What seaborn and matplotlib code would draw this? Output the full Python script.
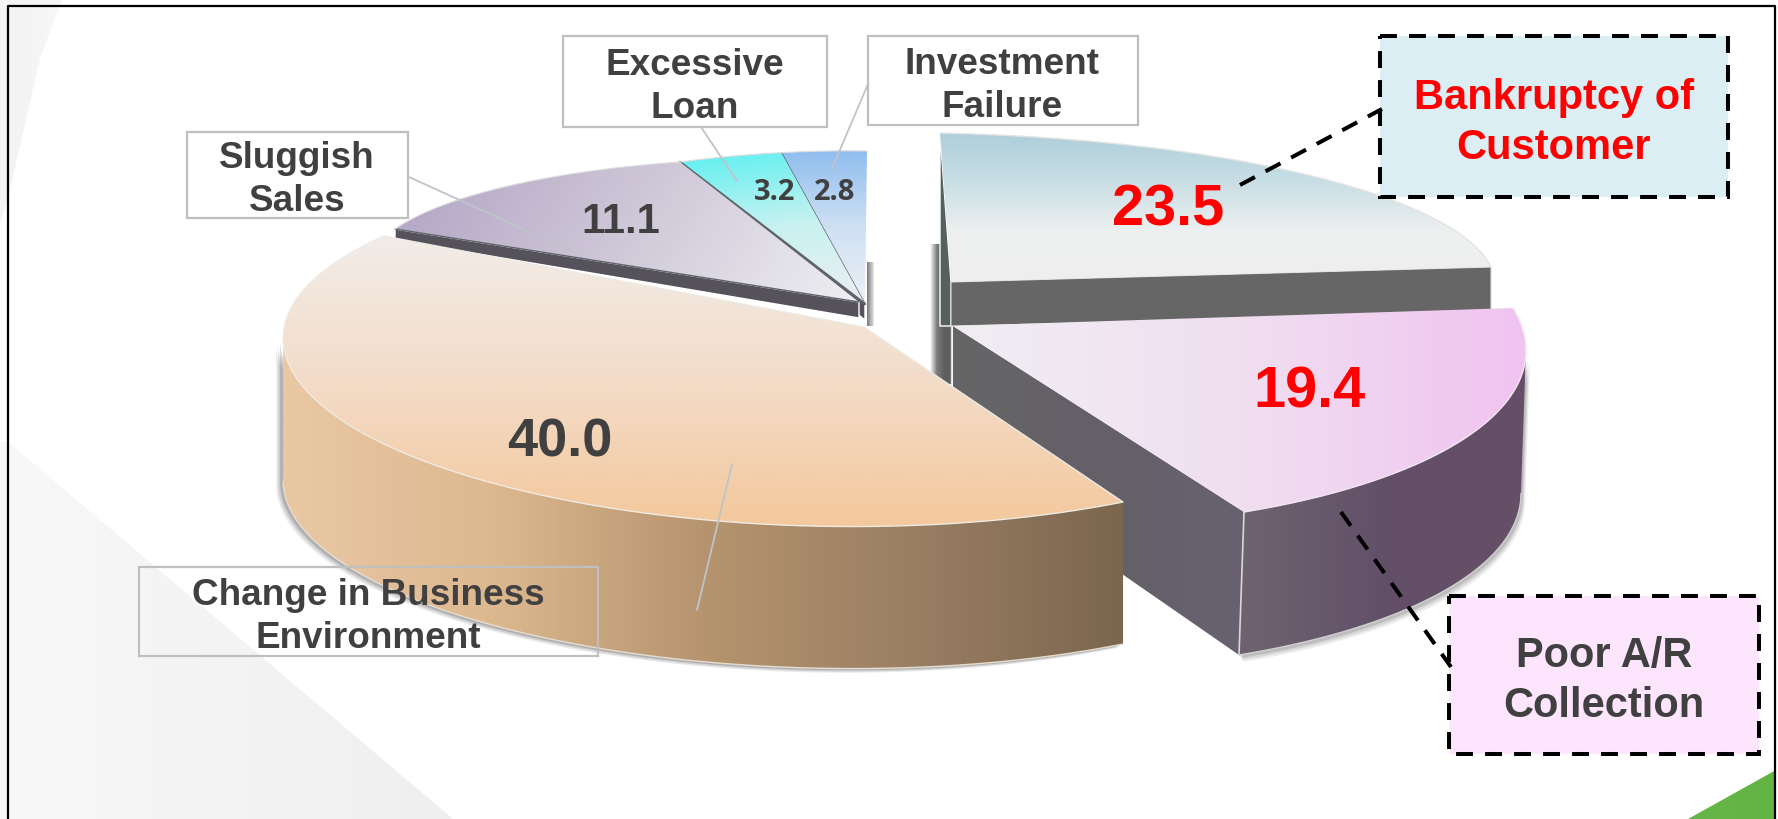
import numpy as np
import matplotlib
matplotlib.use("Agg")
import matplotlib.pyplot as plt
from matplotlib.patches import Polygon, Rectangle
import seaborn as sns

# Causes of insolvency, share in percent, clockwise from twelve o'clock
causes = ["Bankruptcy of\nCustomer", "Poor A/R\nCollection", "Change in Business\nEnvironment",
          "Sluggish\nSales", "Excessive\nLoan", "Investment\nFailure"]
shares = [23.5, 19.4, 40.0, 11.1, 3.2, 2.8]

sns.set_theme(style="white")
plt.rcParams["font.family"] = ["Liberation Sans", "DejaVu Sans"]

W, H = 1778, 820
INK = "#404040"
BOX_EDGE = "#BFBFBF"
LEADER = "#BEC4CA"
DASHES = (0, (4.2, 3.0))

fig = plt.figure(figsize=(W / 100, H / 100), dpi=100, facecolor="white")
ax = fig.add_axes([0, 0, 1, 1])
ax.set_xlim(0, W)
ax.set_ylim(H, 0)
ax.axis("off")
ax.autoscale(False)


def gradient(xy, colors, direction=(0, 1), zorder=2):
    """Fill a polygon with a linear colour ramp running along direction."""
    xy = np.asarray(xy)
    x0, y0 = xy.min(axis=0)
    x1, y1 = xy.max(axis=0)
    X, Y = np.meshgrid(np.linspace(0, 1, 220), np.linspace(0, 1, 220))
    dx, dy = direction
    t = X * dx * (x1 - x0) + Y * dy * (y1 - y0)
    t = (t - t.min()) / (t.max() - t.min())
    cmap = sns.blend_palette(colors, as_cmap=True)
    im = ax.imshow(t, extent=(x0, x1, y1, y0), origin="upper", cmap=cmap, vmin=0, vmax=1,
                   aspect="auto", interpolation="bilinear", zorder=zorder)
    clip = Polygon(xy, closed=True, transform=ax.transData, facecolor="none", edgecolor="none")
    ax.add_patch(clip)
    im.set_clip_path(clip)
    return im


def solve_view(angles, points):
    """Homography taking the unit disc to the tilted slice plane."""
    src = [(0.0, 0.0)] + [(np.sin(np.radians(a)), np.cos(np.radians(a))) for a in angles]
    A, b = [], []
    for (u, v), (x, y) in zip(src, points):
        A.append([u, v, 1, 0, 0, 0, -u * x, -v * x])
        A.append([0, 0, 0, u, v, 1, -u * y, -v * y])
        b += [x, y]
    h = np.linalg.solve(np.array(A, float), np.array(b, float))
    return np.append(h, 1.0).reshape(3, 3)


def project(M, deg):
    r = np.radians(deg)
    uv = np.c_[np.sin(r), np.cos(r), np.ones_like(r)]
    p = uv @ M.T
    return p[:, :2] / p[:, 2:]


def apex_of(M):
    return M[:2, 2] / M[2, 2]


bounds = np.r_[0, np.cumsum(shares) / np.sum(shares) * 360]

# Camera anchors for each exploded part of the pie: apex, first edge, last edge, mid arc
view_blue = solve_view([bounds[0], bounds[1], bounds[:2].mean()],
                       [(951, 283), (940, 134), (1491, 268), (1316, 178)])
view_pink = solve_view([bounds[1], bounds[2], bounds[1:3].mean()],
                       [(953, 327), (1513, 309), (1244, 513), (1478, 430)])
view_orange = solve_view([bounds[2], bounds[3], bounds[2:4].mean()],
                         [(864, 328), (1123, 503), (384, 237), (424, 462)])
view_purple = solve_view([bounds[3], bounds[4], bounds[3:5].mean()],
                         [(859, 303), (395, 230), (680, 163), (504, 188)])
view_tip = solve_view([bounds[4], bounds[6], bounds[4:7:2].mean()],
                      [(865, 305), (680, 163), (867, 152), (775, 154)])
views_small = {3: view_purple, 4: view_tip, 5: view_tip}


def sector(M, i, n=160):
    return project(M, np.linspace(bounds[i], bounds[i + 1], n))


# Backdrop shapes
gradient([(0, 443), (8, 443), (453, 820), (0, 820)], ["#F8F8F8", "#EFEFEF"], (1, 0), zorder=0)
gradient([(0, 0), (62, 0), (40, 60), (8, 200), (0, 225)], ["#F3F3F3", "#F7F7F7"], (1, 0), zorder=0)
gradient([(1776, 771), (1776, 820), (1688, 820)], ["#66B54A", "#62B342"], (1, 0), zorder=0)

# Bankruptcy of customer
arc = sector(view_blue, 0)
apex = apex_of(view_blue)
drop = np.array([0, 44])
gradient([(930, 245), (951, 245), (951, 385), (930, 385)], ["#FFFFFF", "#7A7A7A", "#5F5F5F", "#5F5F5F"], (1, 0), zorder=1)
ax.add_patch(Polygon([arc[0], apex, apex + drop, apex + drop - (11, 0)], facecolor="#55615F", zorder=2))
ax.add_patch(Polygon([apex, arc[-1], arc[-1] + (0, 47), apex + drop], facecolor="#666666",
                     edgecolor="#D8D8D8", lw=0.8, zorder=2))
gradient(np.vstack([apex, arc]), ["#AECFDB", "#C9DFE5", "#EEF0F0", "#EEEEEE"], (0, 1), zorder=3)
ax.plot(*arc.T, color="#E4E4E4", lw=1, zorder=3)
ax.plot([951, 951], [327, 385], color="#E0E0E0", lw=1, zorder=3)

# The three small slices, drawn from the innermost outward
gradient([(867, 263), (874, 263), (874, 327), (867, 327)], ["#777777", "#E8E8E8"], (1, 0), zorder=1)
small_ramps = {3: ["#B1A3C4", "#CFC8D8", "#EFEFF2"],
               4: ["#5CF0F0", "#C8F2F0", "#EDEEF2"],
               5: ["#8FBDEE", "#CFE0F3", "#EEF0F6"]}
small_dirs = {3: (0.8, 0.5), 4: (0.15, 1), 5: (0, 1)}
for i in (5, 4, 3):
    M = views_small[i]
    arc = sector(M, i)
    apex = apex_of(M)
    ax.add_patch(Polygon([arc[0], apex, apex + (0, 16), arc[0] + (0, 11)], facecolor="#55525C", zorder=4))
    gradient(np.vstack([apex, arc]), small_ramps[i], small_dirs[i], zorder=4)
    ax.plot(*np.array([apex, arc[0]]).T, color="#5E6468", lw=1.8 if i == 4 else 1.0, zorder=4)
    ax.plot(*arc.T, color="#DDDDE0", lw=0.8, zorder=4)

# Poor A/R collection
arc = sector(view_pink, 1)
apex = apex_of(view_pink)
drop = np.array([-5, 143])
lower = arc + drop
side = arc[:, 0].argmax()
wall = np.vstack([arc[side:], lower[side:][::-1]])
for k, a in ((7, 0.10), (5, 0.14), (3, 0.2)):
    ax.add_patch(Polygon(wall + (k * 0.6, k), closed=True, facecolor="#555555", edgecolor="none", alpha=a, zorder=4.5))
gradient([apex, arc[-1], arc[-1] + drop, apex + (0, 131)], ["#666666", "#636068", "#686270"], (1, 0), zorder=5)
gradient(wall, ["#6F6370", "#625068", "#664F66"], (1, 0), zorder=5)
ax.plot(*np.array([arc[-1], arc[-1] + drop]).T, color="#D8D8D8", lw=1.2, zorder=5)
ax.plot(*lower[side:].T, color="#D0D0D0", lw=1, zorder=5)
gradient(np.vstack([apex, arc]), ["#F0EEF3", "#F1DFF1", "#F0C3F0"], (1, 0), zorder=6)
ax.plot(*arc.T, color="#F2E6F2", lw=1, zorder=6)

# Change in business environment
arc = sector(view_orange, 2)
apex = apex_of(view_orange)
drop = np.array([0, 142])
lower = arc + drop
side = arc[:, 0].argmin()
wall = np.vstack([arc[:side + 1], lower[:side + 1][::-1]])
for k, a in ((7, 0.12), (5, 0.18), (3, 0.25)):
    ax.add_patch(Polygon(wall + (-k, k * 0.6), closed=True, facecolor="#555555", edgecolor="none", alpha=a, zorder=6.5))
gradient(wall, ["#E9C8A4", "#DDB88F", "#B6946F", "#9A7F63", "#7B664E"], (1, 0), zorder=7)
ax.plot(*lower[:side + 1].T, color="#E6DCCF", lw=1, zorder=7)
gradient(np.vstack([apex, arc]), ["#F2ECE8", "#F3DCC8", "#F3C89C"], (0, 1), zorder=8)
ax.plot(*np.vstack([apex, arc, apex]).T, color="#EEEAE4", lw=1, zorder=8)

# Thin leaders from the plain label boxes
leaders = [((409, 178), (578, 255)), ((701, 128), (737, 182)), ((868, 85), (831, 172)), ((732, 465), (697, 611))]
for p, q in leaders:
    ax.plot(*np.array([p, q]).T, color=LEADER, lw=1.3, zorder=9)

# Dashed leaders for the two highlighted causes
dash = dict(color="black", lw=2.9, ls=DASHES, zorder=12)
ax.plot([1240, 1382], [186, 110], **dash)
ax.plot([1341, 1451], [513, 668], **dash)

# Label boxes
plain_boxes = [(563, 37, 827, 128, "white"), (868, 37, 1138, 126, "white"),
               (187, 133, 408, 219, "white"), (139, 568, 598, 657, "none")]
for x0, y0, x1, y1, fc in plain_boxes:
    ax.add_patch(Rectangle((x0, y0), x1 - x0, y1 - y0, facecolor=fc, edgecolor=BOX_EDGE, lw=1.6, zorder=10))
for x0, y0, x1, y1, fc in [(1380, 37, 1728, 198, "#DAEEF3"), (1449, 597, 1759, 755, "#FDE5FE")]:
    ax.add_patch(Rectangle((x0, y0), x1 - x0, y1 - y0, facecolor=fc, edgecolor="black", lw=2.9,
                           ls=DASHES, zorder=11))

# Cause names
name_style = [(1554, 123, "#FF0000", 30), (1604, 681, INK, 30), (368, 617, INK, 26.6),
              (297, 180, INK, 26.6), (695, 87, INK, 26.6), (1002, 86, INK, 26.6)]
for name, (x, y, color, size) in zip(causes, name_style):
    ax.text(x, y, name, ha="center", va="center", color=color, fontsize=size, fontweight="bold",
            linespacing=1.3, zorder=13)

# Percentages
value_style = [(1168, 210, "#FF0000", 41.5, "Liberation Sans"), (1309, 393, "#FF0000", 41.5, "Liberation Sans"),
               (560, 443, INK, 39, "Liberation Sans"), (621, 222, INK, 30, "Liberation Sans"),
               (775, 192, INK, 21, "Open Sans"), (835, 192, INK, 21, "Open Sans")]
for value, (x, y, color, size, family) in zip(shares, value_style):
    ax.text(x, y, f"{value:.1f}", ha="center", va="center", color=color, fontsize=size, fontweight="bold",
            family=family, zorder=13)

# Slide frame
ax.plot([7.5, 7.5, 1775, 1775], [H, 6.5, 6.5, H], color="black", lw=1.6, zorder=20)

fig.savefig("out.png", dpi=100, facecolor="white")
